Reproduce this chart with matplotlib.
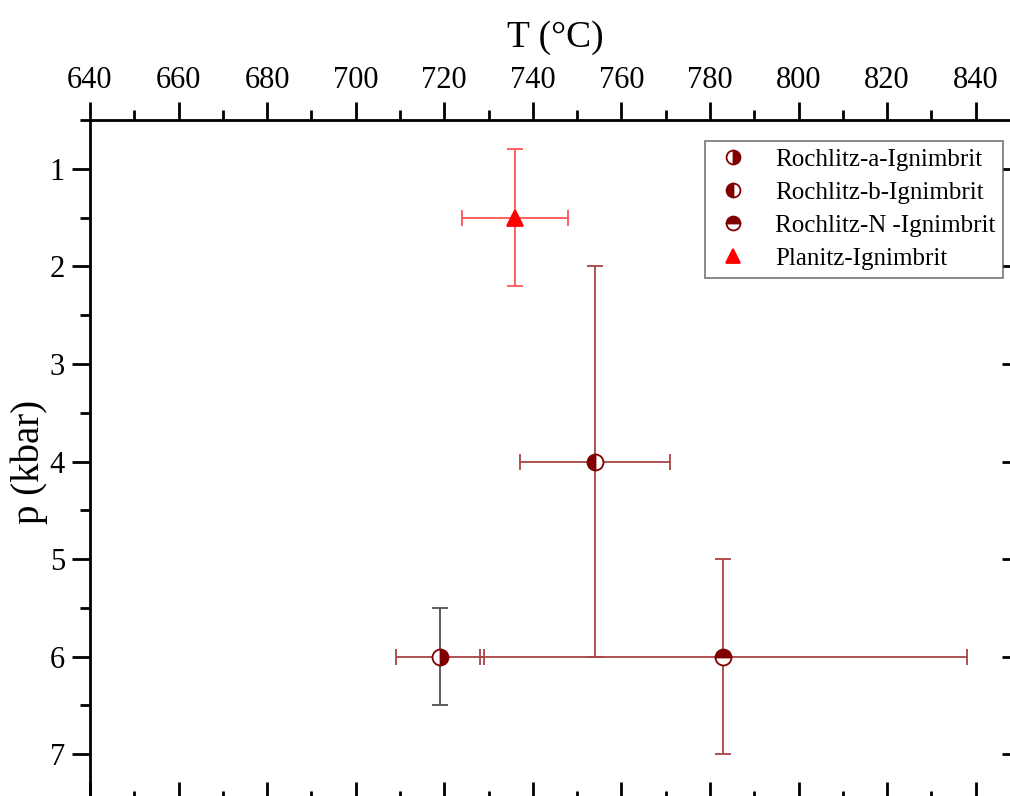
import matplotlib
matplotlib.use('Agg')
from matplotlib import pyplot as plt
from matplotlib.lines import Line2D
from matplotlib.ticker import MultipleLocator, NullFormatter

plt.rcParams['font.family'] = ['Liberation Serif', 'DejaVu Serif']

# samples: T (degC), p (kbar) with errors
names = ['Rochlitz-a-Ignimbrit', 'Rochlitz-b-Ignimbrit',
         'Rochlitz-N -Ignimbrit', 'Planitz-Ignimbrit']
temps = [719, 754, 783, 736]
temp_err = [10, 17, 55, 12]
press = [6.0, 4.0, 6.0, 1.5]
press_err = [0.5, 2.0, 1.0, 0.7]

dark = '#800000'
dark_err = '#a84444'
red = '#ff0000'
red_err = '#ff5555'
grey_err = '#505050'

fig = plt.figure(figsize=(10.10, 7.96), dpi=100)
W, H = 1010., 796.
x0, x1, y0, y1 = 90., 1020., 120., 803.
ax = fig.add_axes([x0/W, 1 - y1/H, (x1 - x0)/W, (y1 - y0)/H])

ax.set_xlim(640, 850)
ax.set_ylim(7.5, 0.5)

# error bars
err_kw = dict(fmt='none', capsize=5.5, elinewidth=1.3, capthick=1.3,
              zorder=2)
ax.errorbar(temps[0], press[0], xerr=temp_err[0], ecolor=dark_err, **err_kw)
ax.errorbar(temps[0], press[0], yerr=press_err[0], ecolor=grey_err, **err_kw)
for i in (1, 2):
    ax.errorbar(temps[i], press[i], xerr=temp_err[i], yerr=press_err[i],
                ecolor=dark_err, **err_kw)
ax.errorbar(temps[3], press[3], xerr=temp_err[3], yerr=press_err[3],
            ecolor=red_err, **err_kw)

# markers
styles = [
    dict(marker='o', fillstyle='right', color=dark, markerfacecoloralt='white'),
    dict(marker='o', fillstyle='left', color=dark, markerfacecoloralt='white'),
    dict(marker='o', fillstyle='top', color=dark, markerfacecoloralt='white'),
    dict(marker='^', fillstyle='full', color=red),
]
handles = []
for i, st in enumerate(styles):
    ax.plot(temps[i], press[i], linestyle='none', markersize=11.5,
            markeredgewidth=1.3, zorder=3, **st)
    handles.append(Line2D([], [], linestyle='none', markersize=10,
                          markeredgewidth=1.3, **st))

# axes: ticks outward on top/left, inward on bottom/right
ax.xaxis.tick_top()
ax.xaxis.set_label_position('top')
ax.xaxis.set_major_locator(MultipleLocator(20))
ax.xaxis.set_minor_locator(MultipleLocator(10))
ax.yaxis.set_major_locator(MultipleLocator(1))
ax.yaxis.set_minor_locator(MultipleLocator(0.5))
ax.tick_params(which='both', direction='out', width=2, labelsize=22,
               top=True, left=True, bottom=False, right=False, pad=5)
ax.tick_params(which='major', length=13)
ax.tick_params(which='minor', length=7)
for sp in ax.spines.values():
    sp.set_linewidth(2)

secx = ax.secondary_xaxis('bottom')
secx.xaxis.set_major_locator(MultipleLocator(20))
secx.xaxis.set_minor_locator(MultipleLocator(10))
secx.xaxis.set_major_formatter(NullFormatter())
secx.tick_params(which='both', direction='in', width=2)
secx.tick_params(which='major', length=15)
secx.tick_params(which='minor', length=9)
secx.spines['bottom'].set_linewidth(2)

secy = ax.secondary_yaxis('right')
secy.yaxis.set_major_locator(MultipleLocator(1))
secy.yaxis.set_minor_locator(MultipleLocator(0.5))
secy.yaxis.set_major_formatter(NullFormatter())
secy.tick_params(which='both', direction='in', width=2)
secy.tick_params(which='major', length=13)
secy.tick_params(which='minor', length=7)
secy.spines['right'].set_linewidth(2)

ax.set_xlabel('T (°C)', fontsize=27, labelpad=14)
ax.set_ylabel('p (kbar)', fontsize=28, labelpad=1)

leg = ax.legend(handles, names, loc='upper right',
                bbox_to_anchor=(1003/W, 1 - 141/H),
                bbox_transform=fig.transFigure, borderaxespad=0,
                fontsize=18, frameon=True, fancybox=False,
                edgecolor='#555555', handletextpad=0.9, labelspacing=0.42,
                borderpad=0.3, handlelength=1.6)
leg.get_frame().set_linewidth(1.2)

fig.savefig('out.png', dpi=100)
